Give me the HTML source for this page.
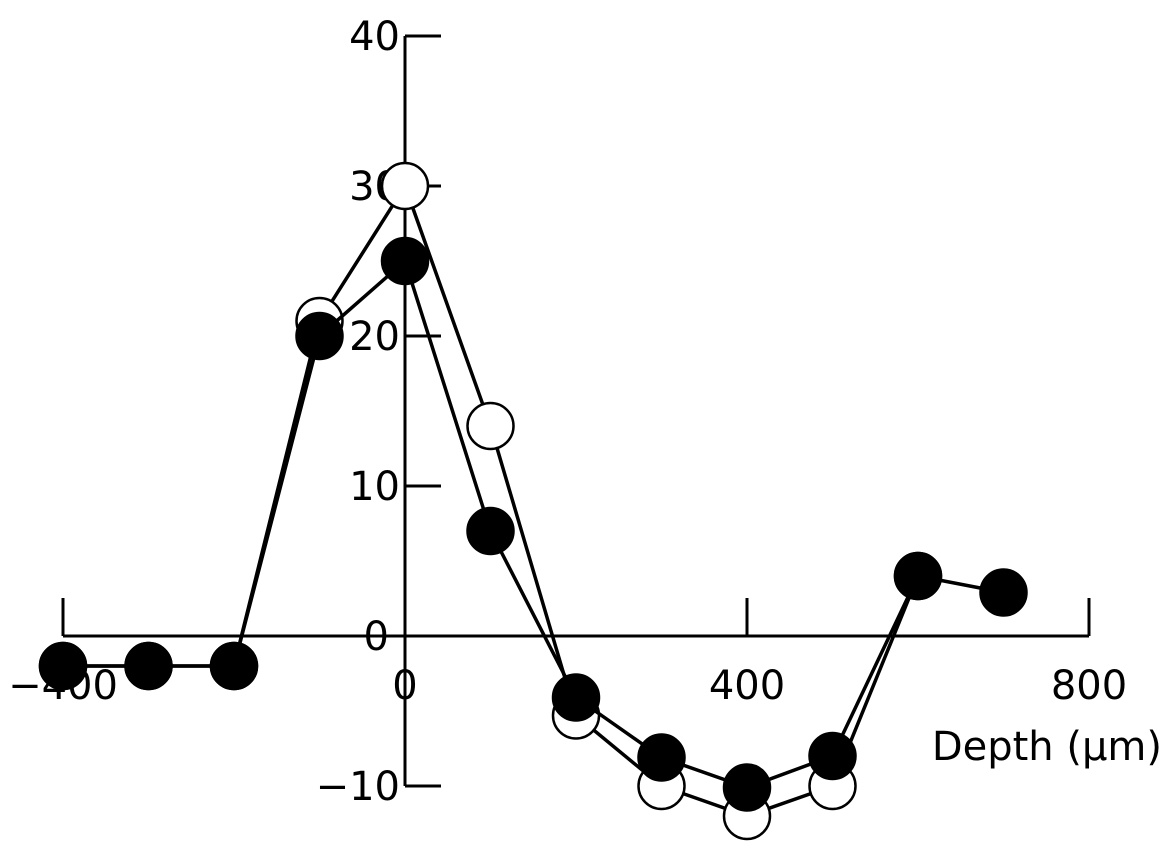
<!DOCTYPE html>
<html><head><meta charset="utf-8"><style>
html,body{margin:0;padding:0;background:#fff;}
svg{display:block;}
text{font-family:"DejaVu Sans","Liberation Sans",sans-serif;font-size:40px;fill:#000;}
</style></head><body>
<svg id="chart" width="1166" height="850" viewBox="0 0 1166 850" xmlns="http://www.w3.org/2000/svg"></svg>
<script>
const depths = [-400, -300, -200, -100, 0, 100, 200, 300, 400, 500, 600, 700];
const filledValues = [-2, -2, -2, 20, 25, 7, -4.1, -8.1, -10.1, -8, 4, 2.9];
const openDepths = [-400, -300, -200, -100, 0, 100, 200, 300, 400, 500, 600];
const openValues = [-2, -2, -2, 21, 30, 14, -5.3, -10, -12, -10, 4];
const yTicks = [-10, 0, 10, 20, 30, 40];
const yTickLabels = ["\u221210", "0", "10", "20", "30", "40"];
const xTicks = [-400, 400, 800];
const xTickLabels = [["\u2212400", -400], ["0", 0], ["400", 400], ["800", 800]];

const svg = document.getElementById('chart');
const NS = 'http://www.w3.org/2000/svg';
const xs = v => 405 + v * (342 / 400);
const ys = v => 636 - v * 15;
function mk(tag, attrs) { const e = document.createElementNS(NS, tag); for (const k in attrs) e.setAttribute(k, attrs[k]); svg.appendChild(e); return e; }

let e = mk('line', {x1: xs(-400), y1: ys(0), x2: xs(800), y2: ys(0), stroke: '#000', 'stroke-width': 3});


e = mk('line', {x1: xs(0), y1: ys(40), x2: xs(0), y2: ys(-10), stroke: '#000', 'stroke-width': 3});



yTicks.forEach((t, i) => {
  let l = mk('line', {x1: xs(0), y1: ys(t), x2: xs(0) + 36, y2: ys(t), stroke: '#000', 'stroke-width': 3});
  
  
  let tx = mk('text', {x: t === 0 ? 389 : 400, y: ys(t) + 14, 'text-anchor': 'end'});
  tx.textContent = yTickLabels[i];
  
  
});
xTicks.forEach(t => {
  let l = mk('line', {x1: xs(t), y1: ys(0), x2: xs(t), y2: ys(0) - 38, stroke: '#000', 'stroke-width': 3});
  
  
});
xTickLabels.forEach(([s, v]) => {
  let tx = mk('text', {x: xs(v), y: 699, 'text-anchor': 'middle'});
  tx.textContent = s;
  
  
});
e = mk('text', {x: 1162, y: 760, 'text-anchor': 'end'});
e.textContent = 'Depth (\u00b5m)';



function series(dx, dv, fill, name) {
  let p = mk('polyline', {points: dx.map((d, i) => xs(d) + ',' + ys(dv[i])).join(' '), fill: 'none', stroke: '#000', 'stroke-width': 3.5});
  
  
  dx.forEach((d, i) => {
    let c = mk('circle', {cx: xs(d), cy: ys(dv[i]), r: 23, fill: fill, stroke: '#000', 'stroke-width': 2.5});
    
    
  });
}
series(openDepths, openValues, '#fff', 'open-series');
series(depths, filledValues, '#000', 'filled-series');
</script>
</body></html>
